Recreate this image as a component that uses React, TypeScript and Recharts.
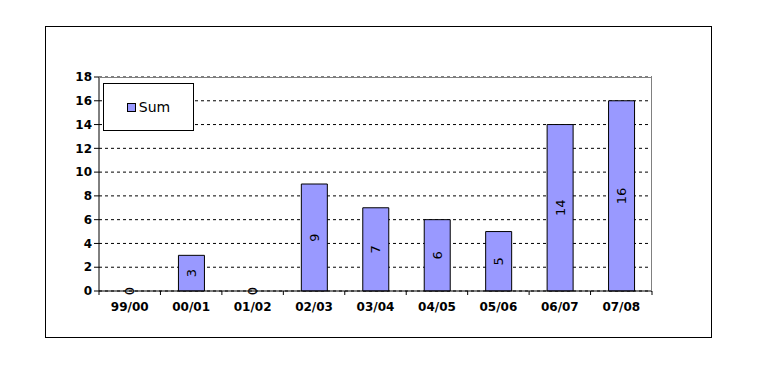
import * as React from "react";
import { ComposedChart, Bar, Line, XAxis, YAxis, CartesianGrid, LabelList } from "recharts";

const seasons = ["99/00", "00/01", "01/02", "02/03", "03/04", "04/05", "05/06", "06/07", "07/08"];
const sums = [0, 3, 0, 9, 7, 6, 5, 14, 16];
const yTicks = [0, 2, 4, 6, 8, 10, 12, 14, 16, 18];

const data = seasons.map((season, i) => ({ season, Sum: sums[i] }));

const FONT = "'DejaVu Sans', Verdana, sans-serif";
const BAR_FILL = "#9999FF";

// category label plus a tick mark on the boundary between categories
const SeasonTick = (props: any) => {
  const { x, y, payload, index } = props;
  const half = payload.offset || 0;
  const last = index === seasons.length - 1;
  return (
    <g>
      <line x1={x - half} y1={y} x2={x - half} y2={y + 4} stroke="#000" />
      {last && <line x1={x + half} y1={y} x2={x + half} y2={y + 4} stroke="#000" />}
      <text
        x={x}
        y={y}
        dy={20}
        textAnchor="middle"
        fill="#000"
        style={{ fontFamily: FONT, fontSize: 12, fontWeight: "bold" }}
      >
        {payload.value}
      </text>
    </g>
  );
};

const ValueText = ({ cx, cy, value }: { cx: number; cy: number; value: any }) => (
  <text
    x={cx}
    y={cy}
    transform={`rotate(-90 ${cx} ${cy})`}
    textAnchor="middle"
    dominantBaseline="central"
    fill="#000"
    style={{ fontFamily: FONT, fontSize: 13 }}
  >
    {value}
  </text>
);

const BarValue = (props: any) => {
  const vb = props.viewBox || props;
  if (!vb.height) return null;
  return <ValueText cx={vb.x + vb.width / 2} cy={vb.y + vb.height / 2} value={props.value} />;
};

// zero-height bars get no label from the bar, so the hidden line carries those
const ZeroValue = (props: any) => {
  if (props.value !== 0) return null;
  const vb = props.viewBox || props;
  return <ValueText cx={vb.x} cy={vb.y} value={props.value} />;
};

export default function App() {
  return (
    <div style={{ position: "absolute", left: 0, top: 0, width: 757, height: 365, background: "#fff" }}>
      <div
        style={{
          position: "absolute",
          left: 45,
          top: 26,
          width: 667,
          height: 312,
          border: "1px solid #000",
          boxSizing: "border-box",
        }}
      />
      <div style={{ position: "absolute", left: 0, top: 0 }}>
        <ComposedChart
          width={757}
          height={365}
          data={data}
          margin={{ top: 77, right: 105, bottom: 44, left: 59 }}
        >
          <CartesianGrid vertical={false} stroke="#000" strokeDasharray="3 3" />
          <XAxis
            dataKey="season"
            height={30}
            interval={0}
            tickLine={false}
            tickSize={0}
            tickMargin={0}
            stroke="#000"
            tick={<SeasonTick />}
          />
          <YAxis
            domain={[0, 18]}
            ticks={yTicks}
            interval={0}
            width={40}
            tickSize={5}
            stroke="#000"
            tick={{ fill: "#000", fontFamily: FONT, fontSize: 12, fontWeight: "bold" }}
          />
          <Bar dataKey="Sum" fill={BAR_FILL} stroke="#000" strokeWidth={1} barSize={26} isAnimationActive={false}>
            <LabelList dataKey="Sum" content={<BarValue />} />
          </Bar>
          <Line
            dataKey="Sum"
            stroke="none"
            dot={false}
            activeDot={false}
            legendType="none"
            isAnimationActive={false}
          >
            <LabelList dataKey="Sum" content={<ZeroValue />} />
          </Line>
        </ComposedChart>
      </div>
      {/* plot frame, top and right edges */}
      <div
        style={{
          position: "absolute",
          left: 99,
          top: 77,
          width: 553,
          height: 214,
          borderTop: "1px solid #808080",
          borderRight: "1px solid #808080",
          boxSizing: "border-box",
          pointerEvents: "none",
        }}
      />
      <div
        style={{
          position: "absolute",
          left: 103,
          top: 83,
          width: 91,
          height: 48,
          border: "1px solid #000",
          background: "#fff",
          boxSizing: "border-box",
          display: "flex",
          alignItems: "center",
          justifyContent: "center",
          fontFamily: FONT,
          fontSize: 14,
        }}
      >
        <span
          style={{
            display: "inline-block",
            width: 7,
            height: 7,
            background: BAR_FILL,
            border: "1px solid #000",
            marginRight: 3,
          }}
        />
        Sum
      </div>
    </div>
  );
}
